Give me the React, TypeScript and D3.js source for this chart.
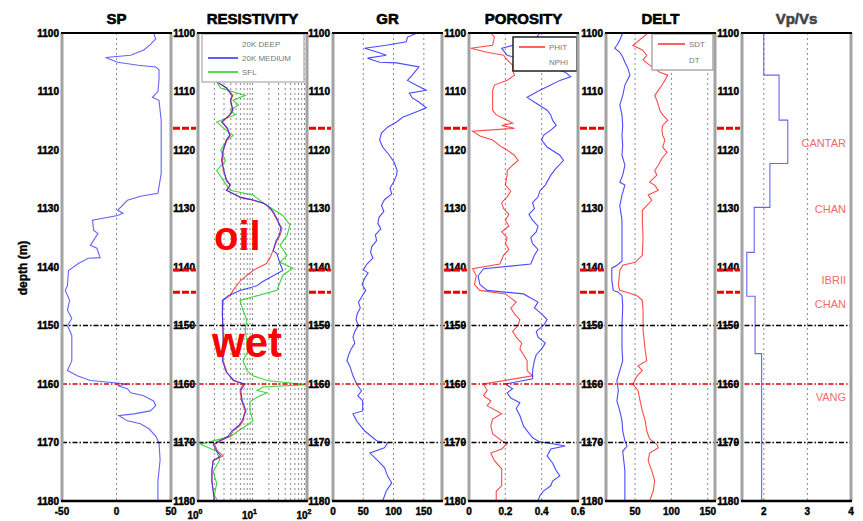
import React, { useEffect, useRef } from "react";
import * as d3 from "d3";

type Pt = [number, number]; // [depth (m), value]

const depthTicks = [1100, 1110, 1120, 1130, 1140, 1150, 1160, 1170, 1180];
const titles = ["SP", "RESISTIVITY", "GR", "POROSITY", "DELT", "Vp/Vs"];

const spTicks = ["-50", "0", "50"];
const spTickValues = [-50, 0, 50];
const resTickValues = [1, 10, 100];
const resTickExponents = ["0", "1", "2"];
const grTickValues = [0, 50, 100, 150];
const porTickValues = [0, 0.2, 0.4, 0.6];
const deltTickValues = [50, 100, 150];
const vpvsTickValues = [2, 3, 4];

// formation tops marked in the gaps between tracks
const topDepths = [1116.3, 1140.5, 1144.3];
// dash-dot correlation lines across all tracks
const lineDepths = [1150, 1160, 1170];
const lineColors = ["#000", "#e00000", "#000"];

const formationNames = ["CANTAR", "CHAN", "IBRII", "CHAN", "VANG"];
const formationDepths = [1118.8, 1130.0, 1142.3, 1146.3, 1162.2];

const spLog: Pt[] = [
  [1100, 34], [1101, 36], [1102, 31], [1102.9, 25], [1103.8, 13], [1104.2, -10], [1105, 1],
  [1105.5, 20], [1105.8, 36], [1106.3, 39], [1108, 39], [1110, 38], [1111, 33], [1111.5, 39],
  [1115, 41], [1120, 41], [1124, 41], [1127.4, 38], [1127.9, 22], [1128.6, 10], [1130.3, 1],
  [1130.8, 6], [1131.2, 1], [1132, -22], [1133.7, -21], [1134.3, -17], [1136.3, -24],
  [1136.8, -18], [1138.4, -15], [1138.5, -26], [1139.4, -35], [1140.6, -44], [1143.2, -45],
  [1144, -47], [1145.7, -43], [1147.4, -45], [1148.8, -41], [1150, -45], [1151.7, -41],
  [1154.3, -41], [1156, -41], [1157.7, -45], [1158.6, -36], [1159.4, -24], [1160, 10],
  [1160.3, 1], [1160.8, 10], [1161.5, 13], [1162, 25], [1162.9, 34], [1163.7, 36],
  [1164.6, 31], [1165.1, 16], [1165.4, 2], [1166.3, 10], [1166.8, 22], [1167.7, 30],
  [1168.9, 36], [1170.1, 39], [1173, 40], [1176.6, 38], [1180, 38],
];

const resDeep: Pt[] = [
  [1108.4, 2.2], [1109.4, 3.4], [1110.7, 4.4], [1111.5, 3.9], [1113.2, 4.4], [1114.0, 3.9],
  [1115.2, 2.8], [1116.3, 3.4], [1117.5, 3.9], [1118.3, 3.4], [1120.0, 2.9], [1121.8, 2.8],
  [1123.5, 2.9], [1125.2, 3.4], [1126.0, 3.9], [1126.9, 3.4], [1128.1, 5.9], [1128.6, 10.2],
  [1129.1, 15.6], [1129.5, 18.5], [1130.0, 21], [1130.7, 23.8], [1132.0, 28.2], [1133.4, 34.8],
  [1134.6, 32], [1135.5, 28.2], [1137.2, 23.8], [1138.4, 21], [1139.4, 18], [1140.6, 10.2],
  [1142.4, 5.9], [1144.0, 4.4], [1144.9, 3.9], [1145.7, 2.9], [1148, 2.8], [1152, 2.9],
  [1156, 2.9], [1158, 3.4], [1159.4, 4.4], [1160, 6.7], [1161.1, 5.9], [1162.9, 6.3],
  [1164.6, 7.3], [1166.3, 6.7], [1167.1, 5.9], [1168, 4.4], [1168.9, 3.9], [1169.8, 2.5],
  [1170.3, 2.0], [1171.5, 2.3], [1172.3, 2.9], [1173.1, 1.9], [1174.8, 1.8], [1176.6, 1.8],
  [1178.3, 1.9], [1180, 2.0],
];

const resMedium: Pt[] = [
  [1108.4, 2.3], [1109.4, 3.3], [1110.7, 4.2], [1111.5, 4.0], [1113.2, 4.3], [1114.0, 3.8],
  [1115.2, 2.7], [1116.3, 3.5], [1117.5, 3.8], [1118.3, 3.3], [1120.0, 2.9], [1121.8, 2.7],
  [1123.5, 3.0], [1125.2, 3.3], [1126.0, 3.9], [1126.9, 3.3], [1128.1, 6.2], [1128.6, 10.8],
  [1129.1, 16], [1129.5, 19], [1130.0, 21.5], [1130.7, 24.5], [1132.0, 29], [1133.4, 33],
  [1134.6, 31], [1135.5, 27], [1137.2, 24], [1137.7, 28], [1139.4, 32], [1140.6, 36],
  [1141.5, 24], [1142.4, 16], [1143.2, 12], [1144.0, 5.9], [1144.9, 3.6], [1145.7, 2.8],
  [1148, 2.8], [1152, 2.9], [1156, 2.8], [1158, 3.3], [1159.4, 4.6], [1160, 7.2],
  [1161.1, 6.1], [1162.9, 6.5], [1164.6, 7.6], [1166.3, 6.4], [1167.1, 5.6], [1168, 4.2],
  [1168.9, 3.6], [1169.8, 2.4], [1170.3, 1.9], [1171.5, 2.2], [1172.3, 2.6], [1173.1, 1.9],
  [1174.8, 1.8], [1176.6, 1.8], [1178.3, 1.9], [1180, 2.0],
];

const resSfl: Pt[] = [
  [1108.4, 2.2], [1109.4, 2.6], [1110.7, 7.3], [1111.5, 4.4], [1112.3, 5.5], [1113.2, 3.9],
  [1114.0, 4.8], [1115.2, 2.2], [1116.3, 3.0], [1117.5, 4.4], [1118.3, 3.4], [1120.0, 2.6],
  [1121.8, 3.2], [1123.5, 2.2], [1125.2, 2.9], [1126.9, 3.9], [1127.7, 10.2], [1129.5, 18.5],
  [1131.2, 36], [1132.8, 48.8], [1134.6, 43], [1136.3, 32], [1138, 43], [1139.2, 32],
  [1140.2, 55], [1141.4, 36], [1144, 28], [1145.7, 5.9], [1147.4, 6.7], [1149.1, 7.9],
  [1150.8, 7.3], [1152.6, 7.9], [1154.3, 8.3], [1156, 6.7], [1157.7, 7.9], [1158.6, 10.2],
  [1159.4, 18.5], [1160, 74], [1160.1, 100], [1160.5, 15.6], [1161.1, 12.1], [1161.5, 18.5],
  [1162, 13.7], [1163, 9], [1164.6, 9], [1166.3, 10.2], [1167, 8], [1168, 5.5], [1169, 3.9],
  [1170.3, 1.1], [1171.5, 2.2], [1173, 2.5], [1175, 1.9], [1177, 2.2], [1179, 2.0], [1180, 2.3],
];

const grLog: Pt[] = [
  [1100, 139], [1100.7, 123], [1101.5, 121], [1102.1, 88], [1102.6, 52], [1103.3, 74],
  [1103.8, 88], [1104.3, 57], [1105.0, 77], [1105.1, 105], [1105.8, 142], [1107.2, 131],
  [1108.1, 123], [1108.9, 137], [1109.8, 154], [1110.3, 126], [1111.1, 131], [1111.8, 142],
  [1112.8, 154], [1113.5, 137], [1114.4, 115], [1115.2, 105], [1116.1, 90], [1117.1, 80],
  [1118.3, 77], [1119.5, 82], [1120.9, 93], [1122.1, 101], [1123.5, 106], [1124.3, 105],
  [1125.5, 100], [1126.5, 94], [1127.5, 97], [1128.5, 85], [1129.5, 80], [1130.5, 84],
  [1131.5, 76], [1132.5, 74], [1133.5, 79], [1134.5, 70], [1135.5, 72], [1136.5, 64],
  [1137.5, 62], [1138.5, 66], [1139.5, 56], [1140.5, 50], [1141, 58], [1142, 52],
  [1143, 48], [1144, 54], [1145, 48], [1146, 42], [1147, 45], [1148, 40], [1149, 38],
  [1150, 42], [1151, 36], [1152, 33], [1153, 36], [1154, 30], [1155, 26], [1156, 23],
  [1157, 28], [1158.6, 33], [1160, 39], [1161.2, 47], [1162, 41], [1162.9, 49],
  [1164.6, 49], [1165.1, 33], [1166.3, 39], [1168, 52], [1169.7, 72], [1170.1, 90],
  [1170.9, 85], [1171.8, 61], [1173.1, 74], [1174.3, 85], [1175.7, 90], [1176.9, 97],
  [1178.3, 88], [1180, 82],
];

const phit: Pt[] = [
  [1100, 0.12], [1100.7, 0.14], [1102.1, 0.13], [1102.6, 0.01], [1103.3, 0.1], [1103.8, 0.19],
  [1104.6, 0.21], [1105.5, 0.24], [1106.3, 0.24], [1107.2, 0.25], [1108.1, 0.21], [1108.9, 0.14],
  [1109.8, 0.13], [1111.5, 0.13], [1113.2, 0.13], [1114.0, 0.15], [1114.9, 0.21], [1115.4, 0.24],
  [1115.8, 0.18], [1116.3, 0.25], [1116.8, 0.02], [1117.6, 0.06], [1118.3, 0.13], [1119.5, 0.18],
  [1120, 0.21], [1120.9, 0.25], [1121.8, 0.27], [1122.6, 0.24], [1123.5, 0.21], [1124.3, 0.21],
  [1126, 0.2], [1127, 0.23], [1128, 0.21], [1129, 0.18], [1130, 0.19], [1131, 0.22], [1132, 0.2],
  [1133, 0.22], [1134, 0.18], [1135, 0.21], [1136, 0.2], [1137, 0.22], [1138, 0.19],
  [1139.5, 0.17], [1140.3, 0.02], [1141.5, 0.04], [1143, 0.03], [1144, 0.06], [1144.6, 0.2],
  [1146, 0.26], [1147, 0.23], [1148, 0.25], [1149, 0.28], [1150, 0.27], [1151, 0.24],
  [1152, 0.26], [1153, 0.29], [1154, 0.28], [1155, 0.3], [1156, 0.32],
  [1157.7, 0.32], [1158.6, 0.35], [1160, 0.08], [1161.1, 0.1], [1162, 0.08], [1162.9, 0.12],
  [1163.7, 0.1], [1165.1, 0.18], [1166, 0.13], [1167.2, 0.12], [1168.5, 0.13], [1169.7, 0.18],
  [1170.2, 0.21], [1171.1, 0.18], [1171.8, 0.12], [1173.1, 0.14], [1174.5, 0.18], [1177.4, 0.18],
  [1178.3, 0.15], [1180, 0.15],
];

const nphi: Pt[] = [
  [1100, 0.39], [1101.2, 0.36], [1102.6, 0.18], [1103.8, 0.21], [1105, 0.35], [1106.7, 0.53],
  [1107.5, 0.56], [1108.1, 0.5], [1108.9, 0.45], [1109.8, 0.39], [1111, 0.32], [1112, 0.37],
  [1113.2, 0.43], [1114, 0.45], [1114.9, 0.46], [1115.8, 0.48], [1116.6, 0.45], [1117.5, 0.41],
  [1118.3, 0.4], [1119.5, 0.43], [1120.9, 0.5], [1121.8, 0.52], [1123.1, 0.48], [1124.3, 0.45],
  [1126, 0.42], [1127, 0.39], [1128, 0.38], [1129, 0.35], [1130, 0.36], [1131, 0.33],
  [1132, 0.35], [1133, 0.38], [1134, 0.37], [1135, 0.34], [1136, 0.35], [1137, 0.38],
  [1138, 0.36], [1139.5, 0.34], [1140.3, 0.08], [1141.5, 0.05], [1143, 0.06], [1144, 0.1],
  [1144.6, 0.3], [1146, 0.38], [1147, 0.36], [1148, 0.4], [1149, 0.43], [1150, 0.41],
  [1151, 0.37], [1152, 0.38], [1153, 0.42], [1154, 0.4], [1155, 0.37],
  [1156, 0.36], [1157.7, 0.35], [1159.1, 0.35], [1160, 0.2], [1160.8, 0.24], [1161.5, 0.21],
  [1162.4, 0.23], [1163.2, 0.28], [1164.2, 0.26], [1165.4, 0.28], [1167.2, 0.3], [1168, 0.32],
  [1169.2, 0.35], [1169.9, 0.39], [1170.2, 0.46], [1170.6, 0.53], [1171.1, 0.45], [1172.3, 0.43],
  [1173.5, 0.46], [1174.8, 0.48], [1175.7, 0.5], [1176.6, 0.46], [1177.4, 0.45], [1178.3, 0.41],
  [1179.1, 0.39], [1180, 0.38],
];

const dtLog: Pt[] = [
  [1100, 33], [1101.2, 29], [1102.1, 25], [1102.6, 22], [1103.3, 29], [1104.1, 33], [1105, 36],
  [1106, 40], [1107.2, 43], [1108.9, 36], [1110.7, 33], [1112.3, 29], [1114, 32], [1115.8, 33],
  [1117.5, 32], [1119.2, 33], [1120.9, 32], [1122.6, 36], [1124.3, 33], [1125.5, 29], [1126, 36],
  [1127.7, 32], [1129.5, 29], [1132, 32], [1136, 32], [1139, 32], [1139.7, 25], [1140.2, 18],
  [1142.2, 18], [1144, 20], [1144.3, 27], [1144.9, 32], [1146.6, 33], [1150, 32], [1154, 32],
  [1156, 33], [1157.7, 29], [1159.4, 25], [1161.1, 27], [1162.9, 25], [1164.6, 29], [1166.3, 32],
  [1168, 33], [1169.7, 36], [1170.6, 39], [1171.5, 33], [1174.8, 36], [1180, 36],
];

const sdtLog: Pt[] = [
  [1100, 68], [1102.1, 47], [1102.9, 60], [1103.8, 66], [1104.6, 61], [1105.5, 70], [1106.7, 84],
  [1107.2, 95], [1108.1, 91], [1108.9, 87], [1109.8, 82], [1110.7, 77], [1111.5, 80], [1112.3, 82],
  [1113.2, 84], [1114, 88], [1114.9, 95], [1115.8, 88], [1116.6, 87], [1117.5, 88], [1118.3, 91],
  [1119.5, 88], [1120.4, 94], [1121.4, 87], [1122.6, 82], [1123.5, 77], [1124.3, 80], [1125.5, 70],
  [1126, 77], [1126.9, 82], [1127.7, 68], [1128.6, 73], [1129.5, 66], [1130.3, 60], [1132, 60],
  [1135, 61], [1138, 60], [1139.2, 50], [1139.7, 33], [1140.6, 29], [1143.2, 27], [1144, 29],
  [1144.5, 43], [1145, 54], [1145.7, 60], [1147.4, 61], [1150.8, 61], [1154.3, 64], [1156, 66],
  [1156.9, 54], [1157.7, 60], [1158.6, 53], [1160, 47], [1161.1, 54], [1162.9, 57], [1164.6, 60],
  [1166.3, 64], [1168, 66], [1169.4, 70], [1170.3, 80], [1170.9, 82], [1171.8, 70], [1173.1, 68],
  [1174.8, 73], [1176.6, 77], [1178.3, 75], [1180, 70],
];

// Vp/Vs is blocky: value holds from its depth down to the next one
const vpvsBlocks: Pt[] = [
  [1100, 2.0], [1107.2, 2.35], [1114.9, 2.55], [1122.3, 2.14], [1129.8, 1.78],
  [1137.5, 1.61], [1145, 1.8], [1154.8, 1.95], [1180, 1.95],
];

const W = 863, H = 521;
const TOP = 33, BOTTOM = 501;
const panelLefts = [62, 198, 333, 469, 606, 742];
const PANEL_W = 109;
const FONT = "Liberation Sans, Arial, Helvetica, sans-serif";

const RED = "#ff2b2b", BLUE = "#2a2aff", GREEN = "#18d018";

export default function App() {
  const ref = useRef<SVGSVGElement>(null);

  useEffect(() => {
    document.body.style.margin = "0";
    const svg = d3.select(ref.current);
    svg.selectAll("*").remove();

    const y = d3.scaleLinear().domain([1100, 1180]).range([TOP, BOTTOM]);

    const panels = [
      {
        x: d3.scaleLinear().domain([-50, 50]), grid: [0],
        curves: [{ data: spLog, color: "#4848ff" }],
      },
      {
        x: d3.scaleLog().domain([1, 100]),
        grid: [2, 3, 4, 5, 6, 7, 8, 9, 10, 20, 30, 40, 50, 60, 70, 80, 90],
        curves: [
          { data: resSfl, color: GREEN },
          { data: resDeep, color: RED },
          { data: resMedium, color: BLUE },
        ],
      },
      {
        x: d3.scaleLinear().domain([0, 180]), grid: [50, 100, 150],
        curves: [{ data: grLog, color: BLUE }],
      },
      {
        x: d3.scaleLinear().domain([0, 0.6]), grid: [0.2, 0.4],
        curves: [{ data: phit, color: RED }, { data: nphi, color: BLUE }],
      },
      {
        x: d3.scaleLinear().domain([10, 160]), grid: [50, 100, 150],
        curves: [{ data: sdtLog, color: RED }, { data: dtLog, color: BLUE }],
      },
      {
        x: d3.scaleLinear().domain([1.5, 4]), grid: [2, 3],
        curves: [{ data: vpvsBlocks, color: "#4a4aff", step: true }],
      },
    ] as any[];

    const defs = svg.append("defs");

    panels.forEach((p, i) => {
      const left = panelLefts[i];
      const right = left + PANEL_W;
      p.x.range([left, right]);
      const g = svg.append("g");

      defs.append("clipPath").attr("id", "clip" + i)
        .append("rect")
        .attr("x", left).attr("y", TOP)
        .attr("width", PANEL_W).attr("height", BOTTOM - TOP);

      // dotted vertical grid
      g.selectAll("line.grid")
        .data(p.grid)
        .enter()
        .append("line")
        .attr("x1", (d: number) => p.x(d)).attr("x2", (d: number) => p.x(d))
        .attr("y1", TOP).attr("y2", BOTTOM)
        .attr("stroke", "#8a8a8a")
        .attr("stroke-width", 1)
        .attr("stroke-dasharray", "2,3");

      p.curves.forEach((c: any) => {
        const line = d3.line<Pt>()
          .x(d => p.x(d[1]))
          .y(d => y(d[0]))
          .curve(c.step ? d3.curveStepBefore : d3.curveLinear);
        g.append("path")
          .attr("d", line(c.data))
          .attr("clip-path", `url(#clip${i})`)
          .attr("fill", "none")
          .attr("stroke", c.color)
          .attr("stroke-width", 1.1)
          .attr("stroke-opacity", 0.85);
      });
    });

    // correlation lines (dash-dot) across all tracks
    lineDepths.forEach((d, i) => {
      svg.append("line")
        .attr("x1", panelLefts[0]).attr("x2", panelLefts[5] + PANEL_W)
        .attr("y1", y(d)).attr("y2", y(d))
        .attr("stroke", lineColors[i])
        .attr("stroke-width", 1.6)
        .attr("stroke-dasharray", "5,2,1.5,2");
    });

    // legends
    const legend = (x0: number, y0: number, w: number, h: number, border: string,
                    items: { label: string; color: string | null }[], lineW: number, rowH: number) => {
      const lg = svg.append("g");
      lg.append("rect").attr("x", x0).attr("y", y0).attr("width", w).attr("height", h)
        .attr("fill", "#fff").attr("stroke", border).attr("stroke-width", 1.5);
      items.forEach((it, k) => {
        const yy = y0 + 10 + k * rowH;
        if (it.color) {
          lg.append("line").attr("x1", x0 + 6).attr("x2", x0 + 6 + lineW)
            .attr("y1", yy).attr("y2", yy).attr("stroke", it.color).attr("stroke-width", 1.5);
        }
        lg.append("text").attr("x", x0 + 10 + lineW).attr("y", yy + 3)
          .attr("font-family", FONT).attr("font-size", 8).attr("fill", "#777")
          .text(it.label);
      });
    };
    legend(202, 34, 102, 48, "#bbb",
      [{ label: "20K DEEP", color: null }, { label: "20K MEDIUM", color: BLUE }, { label: "SFL", color: GREEN }],
      30, 14);
    legend(513, 37, 64, 34, "#222",
      [{ label: "PHIT", color: RED }, { label: "NPHI", color: null }], 26, 15);
    legend(652, 34, 61, 36, "#aaa",
      [{ label: "SDT", color: RED }, { label: "DT", color: null }], 27, 16);

    // track frames
    panelLefts.forEach(left => {
      const right = left + PANEL_W;
      svg.append("line").attr("x1", left).attr("x2", left).attr("y1", TOP).attr("y2", BOTTOM)
        .attr("stroke", "#a3a3a3").attr("stroke-width", 3);
      svg.append("line").attr("x1", right).attr("x2", right).attr("y1", TOP).attr("y2", BOTTOM)
        .attr("stroke", "#a3a3a3").attr("stroke-width", 3);
      svg.append("line").attr("x1", left - 1).attr("x2", right + 1).attr("y1", TOP).attr("y2", TOP)
        .attr("stroke", "#000").attr("stroke-width", 1.8);
      svg.append("line").attr("x1", left - 1).attr("x2", right + 1).attr("y1", BOTTOM).attr("y2", BOTTOM)
        .attr("stroke", "#000").attr("stroke-width", 2.5);
    });

    // titles
    titles.forEach((t, i) => {
      svg.append("text")
        .attr("x", panelLefts[i] + PANEL_W / 2).attr("y", 24)
        .attr("text-anchor", "middle")
        .attr("font-family", FONT).attr("font-size", 15).attr("font-weight", "bold")
        .attr("fill", i === 5 ? "#444" : "#000")
        .attr("stroke", i === 5 ? "#444" : "#000").attr("stroke-width", 0.6)
        .text(t);
    });

    // depth tick labels on the left of every track
    panelLefts.forEach(left => {
      depthTicks.forEach(d => {
        svg.append("text")
          .attr("x", left - 3).attr("y", y(d) + 3.5)
          .attr("text-anchor", "end")
          .attr("font-family", FONT).attr("font-size", 10).attr("font-weight", "bold")
          .attr("stroke", "#000").attr("stroke-width", 0.5)
          .text(d);
      });
    });

    // bottom value labels
    const bottomLabel = (x: number, txt: string) => {
      svg.append("text").attr("x", x).attr("y", 515).attr("text-anchor", "middle")
        .attr("font-family", FONT).attr("font-size", 10).attr("font-weight", "bold")
        .attr("stroke", "#000").attr("stroke-width", 0.4)
        .text(txt);
    };
    spTickValues.forEach((v, k) => bottomLabel(panels[0].x(v), spTicks[k]));
    resTickValues.forEach((v, k) => {
      const t = svg.append("text").attr("x", panels[1].x(v) - 3).attr("y", 519)
        .attr("text-anchor", "middle")
        .attr("font-family", FONT).attr("font-size", 10).attr("font-weight", "bold")
        .attr("stroke", "#000").attr("stroke-width", 0.4);
      t.append("tspan").text("10");
      t.append("tspan").attr("dy", -5).attr("font-size", 7).text(resTickExponents[k]);
    });
    grTickValues.forEach(v => bottomLabel(panels[2].x(v), String(v)));
    porTickValues.forEach(v => bottomLabel(panels[3].x(v), v === 0 ? "0" : v.toFixed(1)));
    deltTickValues.forEach(v => bottomLabel(panels[4].x(v), String(v)));
    vpvsTickValues.forEach(v => bottomLabel(panels[5].x(v), String(v)));

    // formation tops: red dashes in the gaps between tracks
    topDepths.forEach(d => {
      for (let i = 1; i < panelLefts.length; i++) {
        svg.append("line")
          .attr("x1", panelLefts[i - 1] + PANEL_W + 2).attr("x2", panelLefts[i] - 2)
          .attr("y1", y(d)).attr("y2", y(d))
          .attr("stroke", "#ee0000").attr("stroke-width", 3)
          .attr("stroke-dasharray", "7,2");
      }
    });

    // formation names in the Vp/Vs track
    formationNames.forEach((n, k) => {
      svg.append("text")
        .attr("x", 846).attr("y", y(formationDepths[k]) + 4)
        .attr("text-anchor", "end")
        .attr("font-family", FONT).attr("font-size", 11)
        .attr("fill", "#f06a6a")
        .text(n);
    });

    // fluid annotations on resistivity track
    svg.append("text").attr("x", 214).attr("y", 250)
      .attr("font-family", FONT).attr("font-size", 40).attr("font-weight", "bold")
      .attr("fill", "#ff0000").text("oil");
    svg.append("text").attr("x", 212).attr("y", 357)
      .attr("font-family", FONT).attr("font-size", 42).attr("font-weight", "bold")
      .attr("fill", "#ff0000").text("wet");

    // depth axis title
    svg.append("text")
      .attr("transform", "translate(27,268) rotate(-90)")
      .attr("text-anchor", "middle")
      .attr("font-family", FONT).attr("font-size", 12).attr("font-weight", "bold")
      .attr("stroke", "#000").attr("stroke-width", 0.4)
      .text("depth (m)");
  }, []);

  return <svg ref={ref} width={W} height={H} style={{ display: "block", background: "#fff" }} />;
}
